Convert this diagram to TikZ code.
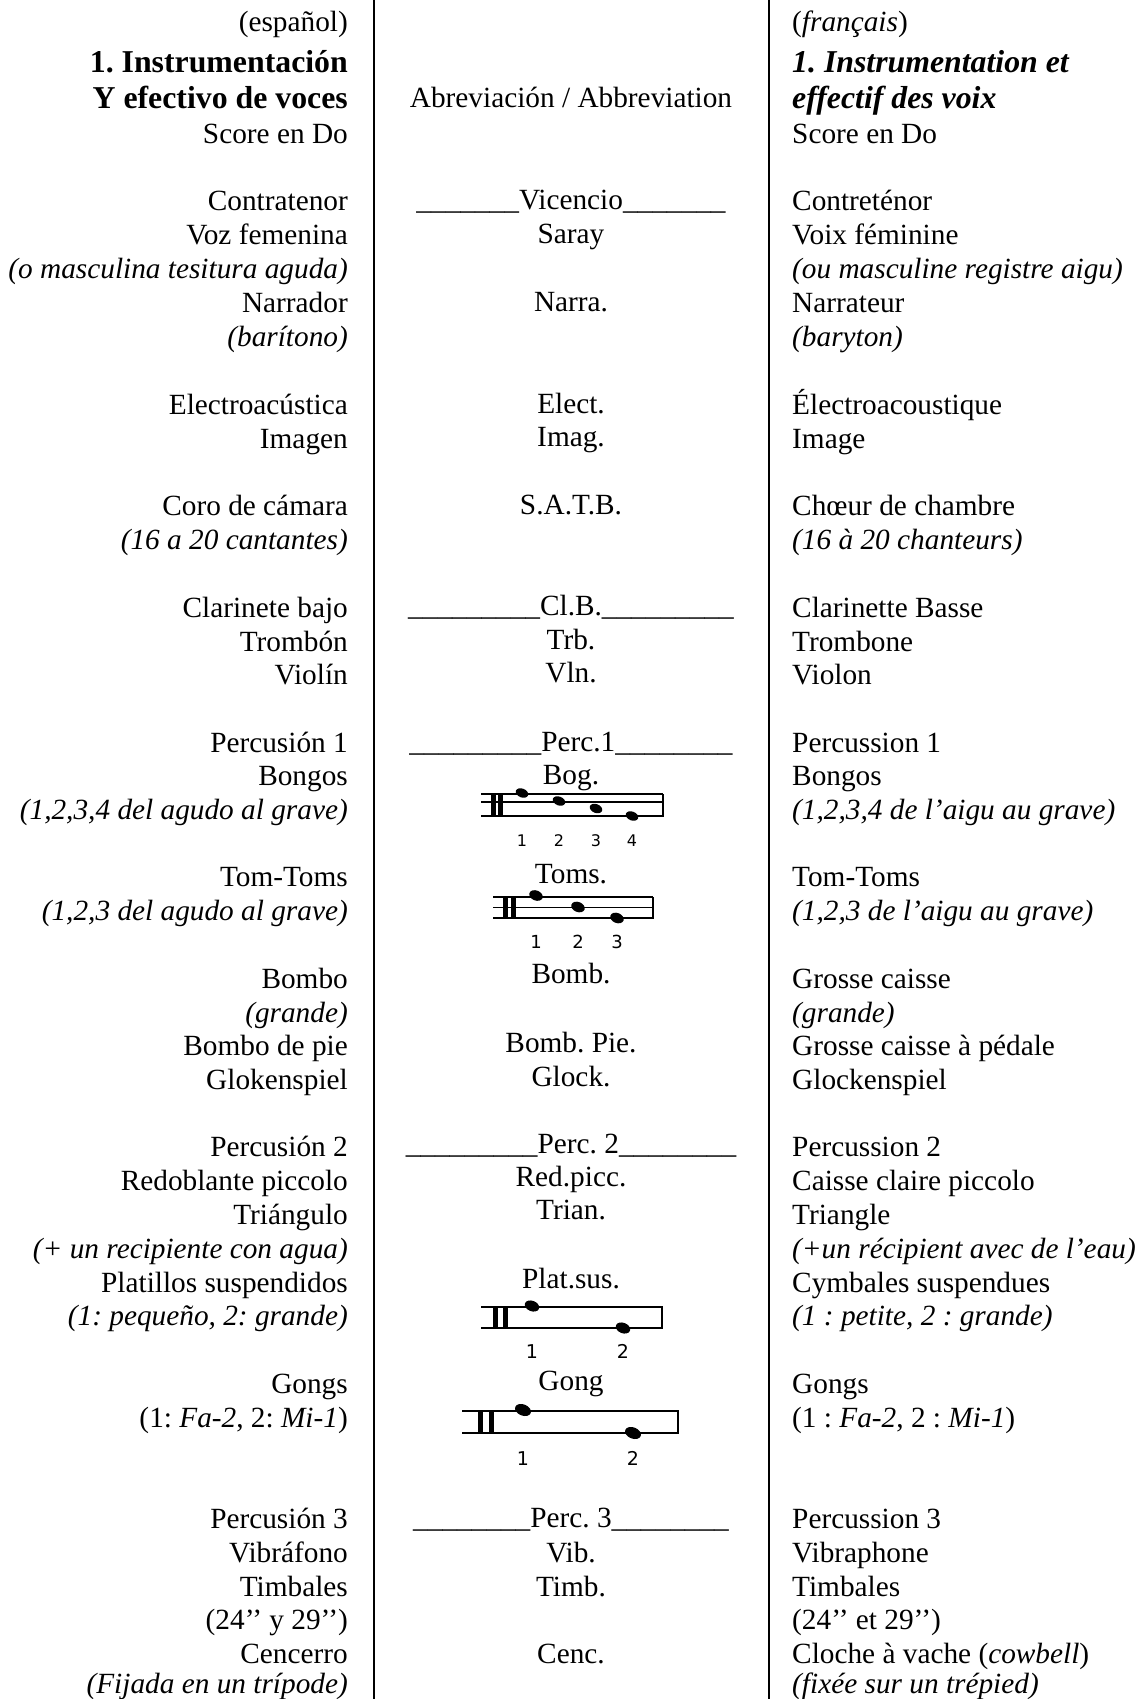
\documentclass[tikz,border=0pt]{standalone}
\usepackage{fontspec}
\setmainfont{Liberation Serif}
\newfontfamily\numfont{DejaVu Sans}
\newcommand\fs{\fontsize{29.3}{34}\selectfont}
\newcommand\hfs{\fontsize{31.8}{36}\selectfont}
\frenchspacing
\tikzset{
  L/.style={anchor=base east, inner sep=0pt, font=\fs},
  C/.style={anchor=base, inner sep=0pt, font=\fs},
  R/.style={anchor=base west, inner sep=0pt, font=\fs},
  num/.style={anchor=base, inner sep=0pt, font=\numfont\fontsize{#1}{#1}\selectfont},
  staffline/.style={line width=1.2pt},
  divider/.style={line width=2.4pt},
  bar/.style={line width=5pt},
}
\newcommand\nhead[4]{\fill[rotate around={-22:(#1,#2)}] (#1,#2) ellipse [x radius=#3, y radius=#4];}
\begin{document}
\begin{tikzpicture}[x=1pt,y=-1pt]
\useasboundingbox (0,0) rectangle (1139,1699);
% dividers
\coordinate (d1t) at (374,0); \coordinate (d1b) at (374,1699);
\coordinate (d2t) at (769,0); \coordinate (d2b) at (769,1699);
\draw[divider] (d1t) -- (d1b);
\draw[divider] (d2t) -- (d2b);
% ---------- left column ----------
\node[L] (l0) at (348,32) {(español)};
\node[L] (l1) at (348,73) {\hfs\bfseries 1. Instrumentación};
\node[L] (l2) at (348,109) {\hfs\bfseries Y efectivo de voces};
\node[L] (l3) at (348,144) {Score en Do};
\node[L] (l4) at (348,211) {Contratenor};
\node[L] (l5) at (348,244) {Voz femenina};
\node[L] (l6) at (348,278) {\itshape (o masculina tesitura aguda)};
\node[L] (l7) at (348,312) {Narrador};
\node[L] (l8) at (348,346) {\itshape (barítono)};
\node[L] (l9) at (348,414) {Electroacústica};
\node[L] (l10) at (348,448) {Imagen};
\node[L] (l11) at (348,515) {Coro de cámara};
\node[L] (l12) at (348,549) {\itshape (16 a 20 cantantes)};
\node[L] (l13) at (348,617) {Clarinete bajo};
\node[L] (l14) at (348,651) {Trombón};
\node[L] (l15) at (348,684) {Violín};
\node[L] (l16) at (348,752) {Percusión 1};
\node[L] (l17) at (348,785) {Bongos};
\node[L] (l18) at (348,819) {\itshape (1,2,3,4 del agudo al grave)};
\node[L] (l19) at (348,886) {Tom-Toms};
\node[L] (l20) at (348,920) {\itshape (1,2,3 del agudo al grave)};
\node[L] (l21) at (348,988) {Bombo};
\node[L] (l22) at (348,1022) {\itshape (grande)};
\node[L] (l23) at (348,1055) {Bombo de pie};
\node[L] (l24) at (348,1089) {Glokenspiel};
\node[L] (l25) at (348,1156) {Percusión 2};
\node[L] (l26) at (348,1190) {Redoblante piccolo};
\node[L] (l27) at (348,1224) {Triángulo};
\node[L] (l28) at (348,1258) {\itshape (+ un recipiente con agua)};
\node[L] (l29) at (348,1292) {Platillos suspendidos};
\node[L] (l30) at (348,1325) {\itshape (1: pequeño, 2: grande)};
\node[L] (l31) at (348,1393) {Gongs};
\node[L] (l32) at (348,1427) {(1: \textit{Fa-2}, 2: \textit{Mi-1})};
\node[L] (l33) at (348,1528) {Percusión 3};
\node[L] (l34) at (348,1562) {Vibráfono};
\node[L] (l35) at (348,1596) {Timbales};
\node[L] (l36) at (348,1629) {(24’’ y 29’’)};
\node[L] (l37) at (348,1663) {Cencerro};
\node[L] (l38) at (348,1693) {\itshape (Fijada en un trípode)};
% ---------- right column ----------
\node[R] (r0) at (792,32) {(\textit{français})};
\node[R] (r1) at (792,73) {\hfs\bfseries\itshape 1. Instrumentation et};
\node[R] (r2) at (792,109) {\hfs\bfseries\itshape effectif des voix};
\node[R] (r3) at (792,144) {Score en Do};
\node[R] (r4) at (792,211) {Contreténor};
\node[R] (r5) at (792,244) {Voix féminine};
\node[R] (r6) at (792,278) {\itshape (ou masculine registre aigu)};
\node[R] (r7) at (792,312) {Narrateur};
\node[R] (r8) at (792,346) {\itshape (baryton)};
\node[R] (r9) at (792,414) {Électroacoustique};
\node[R] (r10) at (792,448) {Image};
\node[R] (r11) at (792,515) {Chœur de chambre};
\node[R] (r12) at (792,549) {\itshape (16 à 20 chanteurs)};
\node[R] (r13) at (792,617) {Clarinette Basse};
\node[R] (r14) at (792,651) {Trombone};
\node[R] (r15) at (792,684) {Violon};
\node[R] (r16) at (792,752) {Percussion 1};
\node[R] (r17) at (792,785) {Bongos};
\node[R] (r18) at (792,819) {\itshape (1,2,3,4 de l’aigu au grave)};
\node[R] (r19) at (792,886) {Tom-Toms};
\node[R] (r20) at (792,920) {\itshape (1,2,3 de l’aigu au grave)};
\node[R] (r21) at (792,988) {Grosse caisse};
\node[R] (r22) at (792,1022) {\itshape (grande)};
\node[R] (r23) at (792,1055) {Grosse caisse à pédale};
\node[R] (r24) at (792,1089) {Glockenspiel};
\node[R] (r25) at (792,1156) {Percussion 2};
\node[R] (r26) at (792,1190) {Caisse claire piccolo};
\node[R] (r27) at (792,1224) {Triangle};
\node[R] (r28) at (792,1258) {\itshape (+un récipient avec de l’eau)};
\node[R] (r29) at (792,1292) {Cymbales suspendues};
\node[R] (r30) at (792,1325) {\itshape (1 : petite, 2 : grande)};
\node[R] (r31) at (792,1393) {Gongs};
\node[R] (r32) at (792,1427) {(1 : \textit{Fa-2}, 2 : \textit{Mi-1})};
\node[R] (r33) at (792,1528) {Percussion 3};
\node[R] (r34) at (792,1562) {Vibraphone};
\node[R] (r35) at (792,1596) {Timbales};
\node[R] (r36) at (792,1629) {(24’’ et 29’’)};
\node[R] (r37) at (792,1663) {Cloche à vache (\textit{cowbell})};
\node[R] (r38) at (792,1693) {\itshape (fixée sur un trépied)};
% ---------- centre column ----------
\node[C] (c0) at (571,108) {Abreviación / Abbreviation};
\node[C] (c1) at (571,210) {\_\_\_\_\_\_\_Vicencio\_\_\_\_\_\_\_};
\node[C] (c2) at (571,243) {Saray};
\node[C] (c3) at (571,311) {Narra.};
\node[C] (c4) at (571,413) {Elect.};
\node[C] (c5) at (571,446) {Imag.};
\node[C] (c6) at (571,514) {S.A.T.B.};
\node[C] (c7) at (571,615) {\_\_\_\_\_\_\_\_\_Cl.B.\_\_\_\_\_\_\_\_\_};
\node[C] (c8) at (571,649) {Trb.};
\node[C] (c9) at (571,682) {Vln.};
\node[C] (c10) at (571,751) {\_\_\_\_\_\_\_\_\_Perc.1\_\_\_\_\_\_\_\_};
\node[C] (c11) at (571,784) {Bog.};
\node[C] (c12) at (571,883) {Toms.};
\node[C] (c13) at (571,983) {Bomb.};
\node[C] (c14) at (571,1052) {Bomb. Pie.};
\node[C] (c15) at (571,1086) {Glock.};
\node[C] (c16) at (571,1153) {\_\_\_\_\_\_\_\_\_Perc. 2\_\_\_\_\_\_\_\_};
\node[C] (c17) at (571,1186) {Red.picc.};
\node[C] (c18) at (571,1219) {Trian.};
\node[C] (c19) at (571,1288) {Plat.sus.};
\node[C] (c20) at (571,1390) {Gong};
\node[C] (c21) at (571,1527) {\_\_\_\_\_\_\_\_Perc. 3\_\_\_\_\_\_\_\_};
\node[C] (c22) at (571,1562) {Vib.};
\node[C] (c23) at (571,1596) {Timb.};
\node[C] (c24) at (571,1663) {Cenc.};
% ---------- Bongos staff ----------
\draw[staffline] (481,794) -- (663,794);
\draw[staffline] (481,802) -- (663,802);
\draw[staffline] (481,816) -- (663,816) -- (663,794);
\draw[bar] (493.5,794) -- (493.5,816);
\draw[bar] (500.5,794) -- (500.5,816);
\nhead{522}{793}{6.5}{4.4}
\nhead{559}{801}{6.5}{4.4}
\nhead{596}{808.5}{6.5}{4.4}
\nhead{632}{816}{6.5}{4.4}
\node[num=16] (bn1) at (522,846) {1};
\node[num=16] (bn2) at (559,846) {2};
\node[num=16] (bn3) at (596,846) {3};
\node[num=16] (bn4) at (632,846) {4};
% ---------- Toms staff ----------
\draw[staffline] (493,897) -- (653,897);
\draw[staffline] (493,907.5) -- (653,907.5);
\draw[staffline] (493,918) -- (653,918) -- (653,897);
\draw[bar] (505,897) -- (505,918);
\draw[bar] (513.5,897) -- (513.5,918);
\nhead{536}{895.5}{7}{5}
\nhead{578}{907}{7}{5}
\nhead{617}{918}{7}{5}
\node[num=18] (tn1) at (536,948) {1};
\node[num=18] (tn2) at (578,948) {2};
\node[num=18] (tn3) at (617,948) {3};
% ---------- Plat.sus. staff ----------
\draw[staffline] (481,1307) -- (662,1307) -- (662,1328) -- (481,1328);
\draw[bar] (495.5,1307) -- (495.5,1328);
\draw[bar] (505.5,1307) -- (505.5,1328);
\nhead{532}{1306}{7.5}{5.2}
\nhead{623}{1328}{7.5}{5.2}
\node[num=19] (pn1) at (532,1358) {1};
\node[num=19] (pn2) at (623,1358) {2};
% ---------- Gong staff ----------
\draw[staffline] (462,1411) -- (678,1411) -- (678,1433) -- (462,1433);
\draw[bar] (480,1411) -- (480,1433);
\draw[bar] (491.5,1411) -- (491.5,1433);
\nhead{523}{1410}{8.3}{5.6}
\nhead{633}{1433}{8.3}{5.6}
\node[num=19] (gn1) at (523,1465) {1};
\node[num=19] (gn2) at (633,1465) {2};
\end{tikzpicture}
\end{document}
